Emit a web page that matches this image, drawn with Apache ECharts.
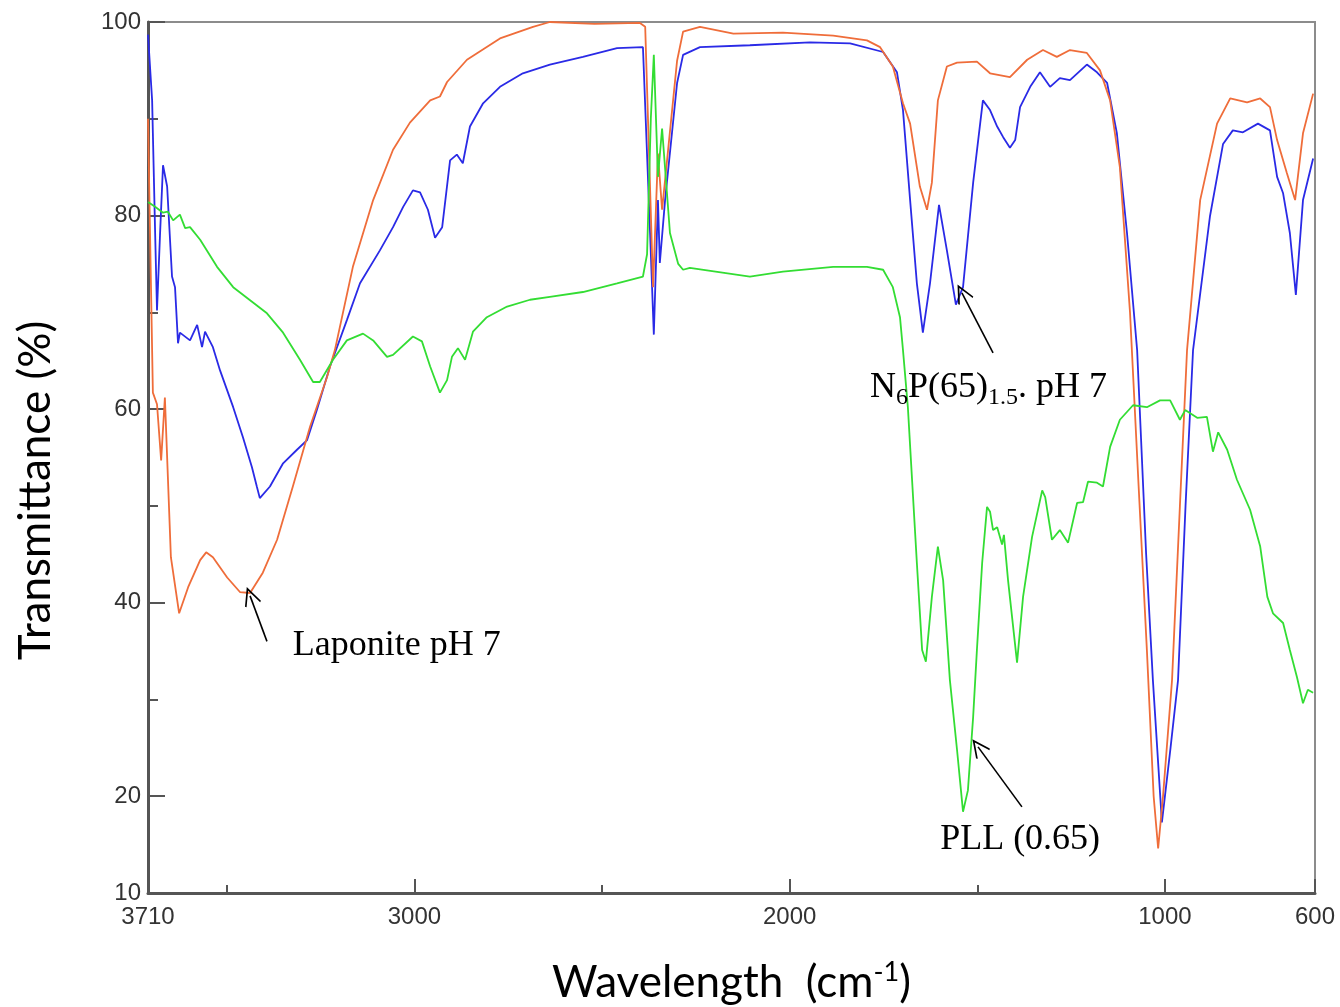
<!DOCTYPE html>
<html><head><meta charset="utf-8">
<script src="https://cdn.jsdelivr.net/npm/echarts@6/dist/echarts.min.js"></script>
<style>html,body{margin:0;padding:0;background:#fff}#c{width:1340px;height:1007px}</style>
</head><body><div id="c"></div>
<script>
// Axis tick / label values
const xLabelValues = [3710, 3000, 2000, 1000, 600];
const xMajorTicks = [3000, 2000, 1000, 600];
const xMinorTicks = [3500, 2500, 1500];
const yLabelValues = [10, 20, 40, 60, 80, 100];
const yMajorTicks = [20, 40, 60, 80, 100];
const yMinorTicks = [30, 50, 70, 90];

// Laponite pH 7 (orange): [wavenumber, transmittance]
const laponite = [
 [3710,90],[3697,61.7],[3686,60.5],[3675,54.7],[3665,61.2],[3649,44.7],[3627,38.9],[3603,41.6],[3571,44.4],[3555,45.2],
 [3537,44.7],[3499,42.6],[3465,41.1],[3438,41.0],[3404,43.1],[3366,46.5],[3324,52.0],[3278,58.2],[3233,63.3],[3212,66.1],
 [3164,74.7],[3110,81.6],[3057,86.8],[3012,89.6],[2958,91.9],[2932,92.3],[2913,93.8],[2860,96.1],[2772,98.3],[2684,99.5],
 [2639,100],[2520,99.8],[2399,99.9],[2385,99.5],[2364,72.6],[2351,86.4],[2340,80.6],[2300,96],[2284,99],[2239,99.5],
 [2150,98.8],[2018,98.9],[1884,98.6],[1794,98.1],[1759,97.4],[1725,95.4],[1698,91.6],[1679,89.5],[1653,83],[1634,80.6],
 [1621,83.4],[1605,91.9],[1581,95.4],[1554,95.8],[1501,95.9],[1466,94.7],[1413,94.3],[1367,96.1],[1325,97.1],[1288,96.4],
 [1253,97.1],[1208,96.8],[1173,95],[1146,91.9],[1120,85.0],[1093,70],[1070,52],[1048,35.1],[1030,20],[1018,14.6],
 [1005,20],[981,32],[960,50],[941,66.1],[906,81.6],[861,89.5],[826,92.1],[781,91.7],[746,92.1],[720,91.2],
 [701,87.8],[675,84.4],[653,81.6],[632,88.5],[605,92.6]
];

// N6P(65)1.5 pH 7 (blue)
const n6p = [
 [3710,98.7],[3699,91.9],[3691,78.2],[3686,70.2],[3678,78],[3670,85.2],[3659,83],[3646,73.7],[3638,72.6],[3630,66.8],
 [3625,67.9],[3598,67.1],[3579,68.7],[3566,66.4],[3558,68],[3537,66.4],[3518,64],[3483,60.2],[3457,57.1],[3433,54],
 [3420,52],[3412,50.8],[3385,52],[3350,54.4],[3313,55.8],[3286,56.8],[3260,59.9],[3225,64.4],[3180,69.2],[3145,73],
 [3092,76.4],[3057,78.8],[3030,80.9],[3004,82.6],[2985,82.4],[2964,80.6],[2945,77.7],[2926,78.8],[2905,85.7],[2887,86.3],
 [2871,85.4],[2852,89.2],[2817,91.6],[2772,93.3],[2711,94.7],[2639,95.6],[2551,96.4],[2460,97.3],[2391,97.4],[2372,78.2],
 [2362,67.7],[2351,81.6],[2346,75.1],[2332,81.6],[2300,93.7],[2284,96.6],[2239,97.4],[2106,97.6],[1946,97.9],[1839,97.8],
 [1751,96.9],[1714,94.8],[1698,90.9],[1679,81.6],[1661,73],[1645,67.9],[1626,73],[1602,81.1],[1581,76.4],[1557,70.8],
 [1538,72.6],[1511,83.4],[1485,91.9],[1466,90.9],[1447,89.2],[1431,88.1],[1413,87],[1399,87.8],[1386,91.2],[1359,93.3],
 [1333,94.8],[1306,93.3],[1280,94.2],[1253,94],[1208,95.6],[1181,94.8],[1154,93.7],[1128,88.5],[1101,78.2],[1074,66.1],
 [1050,45],[1032,32],[1008,17.3],[985,25],[965,32],[945,50],[925,66.1],[880,79.9],[845,87.4],[819,88.8],
 [792,88.6],[752,89.5],[720,88.8],[701,84],[685,82.3],[667,78.2],[651,71.8],[632,81.6],[605,85.9]
];

// PLL (0.65) (green)
const pll = [
 [3710,81.4],[3691,80.9],[3670,80.3],[3657,80.4],[3643,79.5],[3625,80.1],[3611,78.7],[3598,78.8],[3571,77.5],[3526,74.7],
 [3483,72.6],[3393,69.9],[3350,67.9],[3305,65.1],[3270,62.8],[3252,62.8],[3217,65.1],[3180,67.1],[3137,67.8],[3110,67.1],
 [3073,65.4],[3057,65.6],[3004,67.5],[2980,67],[2958,64.4],[2932,61.7],[2913,63],[2900,65.4],[2884,66.3],[2865,65.1],
 [2844,68],[2807,69.5],[2753,70.6],[2692,71.3],[2639,71.6],[2551,72.1],[2460,73],[2391,73.7],[2380,76],[2370,90],
 [2362,96.6],[2351,84],[2340,89],[2319,78.2],[2297,75],[2284,74.4],[2266,74.6],[2106,73.7],[2018,74.2],[1884,74.7],
 [1794,74.7],[1751,74.4],[1725,72.6],[1706,69.5],[1698,66.1],[1685,60.2],[1661,44.1],[1647,35.1],[1637,33.9],[1621,40.6],
 [1605,45.8],[1591,42.3],[1573,32],[1554,24.8],[1538,18.4],[1525,20.6],[1511,28.2],[1501,35.1],[1487,44.1],[1474,49.9],
 [1466,49.4],[1458,47.5],[1447,47.8],[1434,46],[1429,47],[1418,42.3],[1394,33.8],[1378,40.6],[1354,46.8],[1327,51.6],
 [1319,50.9],[1301,46.5],[1280,47.5],[1258,46.2],[1234,50.3],[1218,50.4],[1205,52.5],[1181,52.4],[1165,52],[1146,56.1],
 [1120,58.9],[1085,60.4],[1048,60.2],[1013,60.9],[986,60.9],[960,58.9],[946,59.9],[914,59.1],[888,59.2],[872,55.6],
 [858,57.6],[834,55.8],[808,52.7],[773,49.6],[746,45.8],[727,40.6],[712,38.9],[685,37.9],[667,35.1],[648,32.3],
 [632,29.6],[619,31],[605,30.7]
];

const chart = echarts.init(document.getElementById('c'), null, {renderer: 'canvas'});
const tickFont = {fontFamily: 'Liberation Sans, Arial, sans-serif', fontSize: 24, color: '#333'};
const serifFont = 'Liberation Serif, Times New Roman, serif';
const arrowHead = 'path://M10,0 L20,18 L18.5,19.2 L10,4 L1.5,19.2 L0,18 Z';
const plain = v => String(v);

function arrow(from, to) {
  return [{coord: from}, {coord: to}];
}

const lineCommon = {type: 'line', showSymbol: false, symbol: 'none', smooth: false, silent: true};
const markLineCommon = {
  silent: true, symbol: ['none', arrowHead], symbolSize: [17, 19], label: {show: false},
  lineStyle: {color: '#000', width: 1.6, type: 'solid'}
};

const option = {
  animation: false,
  backgroundColor: '#fff',
  grid: {left: 148, right: 25, top: 22, bottom: 114, show: true, borderColor: '#8c8c8c', borderWidth: 2,
    containLabel: false, outerBoundsMode: 'none'},
  xAxis: [{
    type: 'value', inverse: true, min: 600, max: 3710, position: 'bottom',
    axisLine: {show: true, onZero: false, lineStyle: {color: '#555', width: 3}},
    axisTick: {show: true, inside: true, length: 14, customValues: xMajorTicks, lineStyle: {color: '#555', width: 2}},
    axisLabel: {show: true, customValues: xLabelValues, formatter: plain, margin: 12, showMinLabel: true, showMaxLabel: true, hideOverlap: false, ...tickFont},
    splitLine: {show: false},
    name: '{a|Wavelength  (cm}{s|-1}{a|)}', nameLocation: 'middle', nameGap: 66,
    nameTextStyle: {rich: {
      a: {fontFamily: 'Lato, sans-serif', fontSize: 44, color: '#000', lineHeight: 48},
      s: {fontFamily: 'Lato, sans-serif', fontSize: 27, color: '#000', verticalAlign: 'top', lineHeight: 48, padding: [0, 0, 14, 0]}
    }}
  }, {
    type: 'value', inverse: true, min: 600, max: 3710, position: 'bottom', offset: 0,
    axisLine: {show: false},
    axisTick: {show: true, inside: true, length: 8, customValues: xMinorTicks, lineStyle: {color: '#555', width: 2}},
    axisLabel: {show: false}, splitLine: {show: false}
  }],
  yAxis: [{
    type: 'value', min: 10, max: 100, position: 'left',
    axisLine: {show: true, onZero: false, lineStyle: {color: '#555', width: 3}},
    axisTick: {show: true, inside: true, length: 17, customValues: yMajorTicks, lineStyle: {color: '#555', width: 2}},
    axisLabel: {show: true, customValues: yLabelValues, formatter: plain, margin: 7, showMinLabel: true, showMaxLabel: true, hideOverlap: false, ...tickFont},
    splitLine: {show: false},
    name: 'Transmittance (%)', nameLocation: 'middle', nameGap: 90, nameRotate: 90,
    nameTextStyle: {fontFamily: 'Lato, sans-serif', fontSize: 44, color: '#000', padding: [0, 66, 0, 0]}
  }, {
    type: 'value', min: 10, max: 100, position: 'left', offset: 0,
    axisLine: {show: false},
    axisTick: {show: true, inside: true, length: 10, customValues: yMinorTicks, lineStyle: {color: '#555', width: 2}},
    axisLabel: {show: false}, splitLine: {show: false}
  }],
  series: [
    Object.assign({}, lineCommon, {
      name: 'N6P(65)1.5 pH 7', data: n6p,
      lineStyle: {color: '#2a2ae6', width: 1.8}, itemStyle: {color: '#2a2ae6'}, z: 2,
      markPoint: {
        symbol: 'circle', symbolSize: 0, silent: true,
        label: {show: true, position: 'right', distance: 0, color: '#000',
          formatter: '{m|N}{b|6}{m|P(65)}{b|1.5}{m|. pH 7}',
          rich: {
            m: {fontFamily: serifFont, fontSize: 36, color: '#000', lineHeight: 44},
            b: {fontFamily: serifFont, fontSize: 24, color: '#000', verticalAlign: 'bottom', lineHeight: 44, padding: [12, 0, 0, 0]}
          }},
        data: [{coord: [1786, 62.2]}]
      },
      markLine: Object.assign({}, markLineCommon, {data: [arrow([1458, 65.8], [1541, 72.0])]})
    }),
    Object.assign({}, lineCommon, {
      name: 'Laponite pH 7', data: laponite,
      lineStyle: {color: '#ef6d3a', width: 1.8}, itemStyle: {color: '#ef6d3a'}, z: 3,
      markPoint: {
        symbol: 'circle', symbolSize: 0, silent: true,
        label: {show: true, position: 'right', distance: 0, color: '#000', fontFamily: serifFont, fontSize: 36,
          formatter: 'Laponite pH 7'},
        data: [{coord: [3324, 35.6]}]
      },
      markLine: Object.assign({}, markLineCommon, {data: [arrow([3393, 36.0], [3438, 40.7])]})
    }),
    Object.assign({}, lineCommon, {
      name: 'PLL (0.65)', data: pll,
      lineStyle: {color: '#33dd33', width: 1.8}, itemStyle: {color: '#33dd33'}, z: 4,
      markPoint: {
        symbol: 'circle', symbolSize: 0, silent: true,
        label: {show: true, position: 'right', distance: 0, color: '#000', fontFamily: serifFont, fontSize: 36,
          formatter: 'PLL (0.65)'},
        data: [{coord: [1599, 15.5]}]
      },
      markLine: Object.assign({}, markLineCommon, {data: [arrow([1381, 18.9], [1498, 25.1])]})
    })
  ]
};
chart.setOption(option);
</script>
</body></html>
